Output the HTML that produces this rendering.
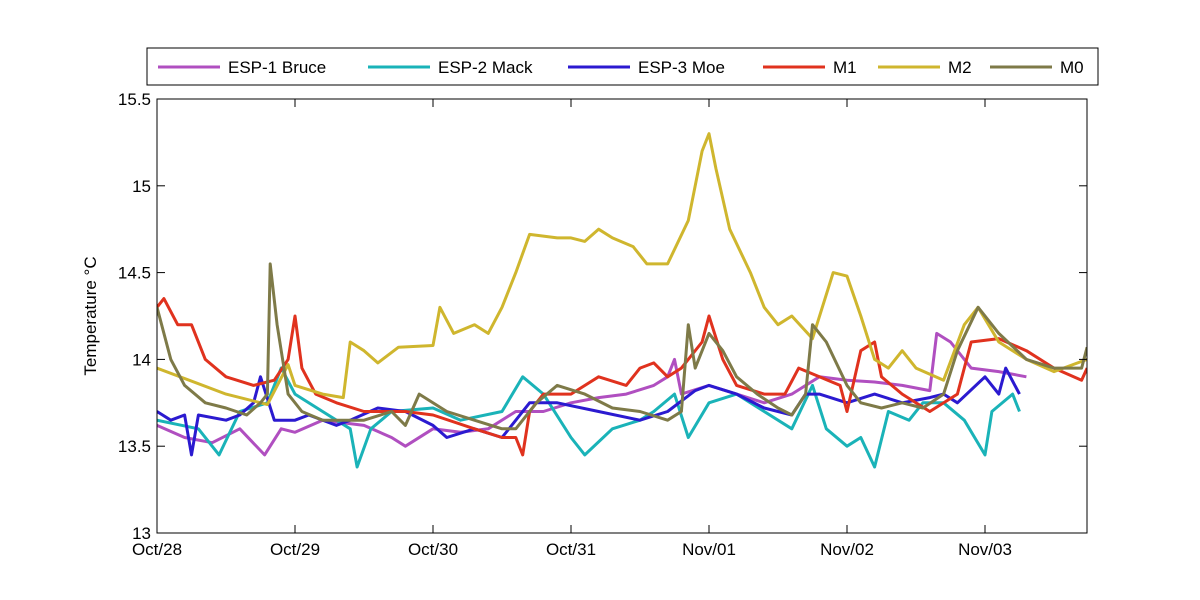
<!DOCTYPE html>
<html><head><meta charset="utf-8"><style>
body{margin:0;background:#fff;}
svg{display:block;font-family:"Liberation Sans",sans-serif;}
</style></head><body>
<svg id="chart" width="1200" height="600">
<rect x="0" y="0" width="1200" height="600" fill="#fff"/>
<g id="plot"></g>
</svg>
<script>
const dayLabels=["Oct/28","Oct/29","Oct/30","Oct/31","Nov/01","Nov/02","Nov/03"];
const yTicks=[13,13.5,14,14.5,15,15.5];
const seriesNames=["ESP-1 Bruce","ESP-2 Mack","ESP-3 Moe","M1","M2","M0"];
const seriesColors=["#b04fc0","#1ab3b8","#2b1ad0","#e0321e","#cfb62e","#7e7a48"];
const bruceX=[0,0.2,0.4,0.6,0.78,0.9,1.0,1.2,1.5,1.7,1.8,2.0,2.2,2.4,2.6,2.8,3.0,3.2,3.4,3.6,3.7,3.75,3.8,4.0,4.2,4.4,4.6,4.8,5.0,5.2,5.4,5.6,5.65,5.75,5.9,6.1,6.3];
const bruceY=[13.62,13.55,13.52,13.6,13.45,13.6,13.58,13.65,13.62,13.55,13.5,13.6,13.58,13.6,13.7,13.7,13.75,13.78,13.8,13.85,13.9,14.0,13.8,13.85,13.8,13.75,13.8,13.9,13.88,13.87,13.85,13.82,14.15,14.1,13.95,13.93,13.9];
const mackX=[0,0.3,0.45,0.6,0.8,0.9,1.0,1.2,1.4,1.45,1.55,1.7,2.0,2.2,2.5,2.65,2.8,3.0,3.1,3.3,3.5,3.6,3.75,3.85,4.0,4.2,4.4,4.6,4.75,4.85,5.0,5.1,5.2,5.3,5.45,5.55,5.7,5.85,6.0,6.05,6.2,6.25];
const mackY=[13.65,13.6,13.45,13.7,13.75,13.95,13.8,13.7,13.6,13.38,13.6,13.7,13.72,13.65,13.7,13.9,13.8,13.55,13.45,13.6,13.65,13.7,13.8,13.55,13.75,13.8,13.7,13.6,13.85,13.6,13.5,13.55,13.38,13.7,13.65,13.75,13.75,13.65,13.45,13.7,13.8,13.7];
const moeX=[0,0.1,0.2,0.25,0.3,0.5,0.6,0.7,0.75,0.85,1.0,1.1,1.3,1.4,1.6,1.8,2.0,2.1,2.3,2.5,2.6,2.7,2.9,3.2,3.5,3.7,3.9,4.0,4.2,4.4,4.6,4.7,4.8,5.0,5.2,5.4,5.6,5.7,5.8,6.0,6.1,6.15,6.25];
const moeY=[13.7,13.65,13.68,13.45,13.68,13.65,13.68,13.75,13.9,13.65,13.65,13.68,13.62,13.65,13.72,13.7,13.62,13.55,13.6,13.55,13.65,13.75,13.75,13.7,13.65,13.7,13.82,13.85,13.8,13.72,13.68,13.8,13.8,13.75,13.8,13.75,13.78,13.8,13.75,13.9,13.8,13.95,13.8];
const m1X=[0,0.05,0.15,0.25,0.35,0.5,0.7,0.85,0.95,1.0,1.05,1.15,1.3,1.5,1.8,2.0,2.3,2.5,2.6,2.65,2.7,2.8,3.0,3.2,3.4,3.5,3.6,3.7,3.8,3.95,4.0,4.1,4.2,4.4,4.55,4.65,4.8,4.95,5.0,5.1,5.2,5.25,5.4,5.6,5.8,5.9,6.1,6.3,6.5,6.7,6.74];
const m1Y=[14.3,14.35,14.2,14.2,14.0,13.9,13.85,13.88,14.0,14.25,13.95,13.8,13.75,13.7,13.7,13.68,13.6,13.55,13.55,13.45,13.7,13.8,13.8,13.9,13.85,13.95,13.98,13.9,13.95,14.1,14.25,14.0,13.85,13.8,13.8,13.95,13.9,13.85,13.7,14.05,14.1,13.9,13.8,13.7,13.8,14.1,14.12,14.05,13.95,13.88,13.95];
const m2X=[0,0.5,0.8,0.95,1.0,1.2,1.35,1.4,1.5,1.6,1.75,2.0,2.05,2.15,2.3,2.4,2.5,2.6,2.7,2.9,3.0,3.1,3.2,3.3,3.45,3.55,3.7,3.85,3.95,4.0,4.05,4.15,4.3,4.4,4.5,4.6,4.75,4.9,5.0,5.1,5.2,5.3,5.4,5.5,5.7,5.85,5.95,6.1,6.3,6.5,6.74];
const m2Y=[13.95,13.8,13.74,13.97,13.85,13.8,13.78,14.1,14.05,13.98,14.07,14.08,14.3,14.15,14.2,14.15,14.3,14.5,14.72,14.7,14.7,14.68,14.75,14.7,14.65,14.55,14.55,14.8,15.2,15.3,15.1,14.75,14.5,14.3,14.2,14.25,14.12,14.5,14.48,14.25,14.0,13.95,14.05,13.95,13.88,14.2,14.3,14.1,14.0,13.93,14.0];
const m0X=[0,0.1,0.2,0.35,0.5,0.65,0.75,0.8,0.82,0.87,0.95,1.05,1.2,1.5,1.7,1.8,1.9,2.1,2.3,2.5,2.6,2.75,2.9,3.1,3.3,3.5,3.7,3.8,3.85,3.9,4.0,4.1,4.2,4.35,4.5,4.6,4.7,4.75,4.85,5.0,5.1,5.25,5.4,5.55,5.7,5.8,5.95,6.1,6.3,6.5,6.7,6.74];
const m0Y=[14.3,14.0,13.85,13.75,13.72,13.68,13.75,13.8,14.55,14.2,13.8,13.7,13.65,13.65,13.7,13.62,13.8,13.7,13.65,13.6,13.6,13.75,13.85,13.8,13.72,13.7,13.65,13.7,14.2,13.95,14.15,14.05,13.9,13.8,13.72,13.68,13.8,14.2,14.1,13.85,13.75,13.72,13.75,13.72,13.8,14.05,14.3,14.15,14.0,13.95,13.95,14.07];
const allX=[bruceX,mackX,moeX,m1X,m2X,m0X];
const allY=[bruceY,mackY,moeY,m1Y,m2Y,m0Y];

const L=157,R=1087,T=99,B=533,xMax=(R-L)/138,yMin=13,yMax=15.5;
const xs=d=>L+d/xMax*(R-L);
const ys=v=>B-(v-yMin)/(yMax-yMin)*(B-T);
const NS="http://www.w3.org/2000/svg";
const svg=document.getElementById('chart');
function mk(tag,attrs,parent){const e=document.createElementNS(NS,tag);for(const k in attrs)e.setAttribute(k,attrs[k]);(parent||svg).appendChild(e);return e;}

const clip=mk('clipPath',{id:'cp'});mk('rect',{x:L,y:T,width:R-L,height:B-T},clip);
const plot=document.getElementById('plot');
allX.forEach((xa,i)=>{
  const p=mk('polyline',{points:xa.map((x,j)=>xs(x).toFixed(1)+','+ys(allY[i][j]).toFixed(1)).join(' '),fill:'none',stroke:seriesColors[i],'stroke-width':3,'stroke-linejoin':'round','clip-path':'url(#cp)'},plot);
  
  
});
const frame=mk('rect',{x:L,y:T,width:R-L,height:B-T,fill:'none',stroke:'#000','stroke-width':1});


yTicks.forEach(v=>{
  const y=ys(v);
  mk('line',{x1:L,x2:L+8,y1:y,y2:y,stroke:'#000'});
  mk('line',{x1:R,x2:R-8,y1:y,y2:y,stroke:'#000'});
  const t=mk('text',{x:L-6,y:y+6,'text-anchor':'end','font-size':17});
  t.textContent=String(v);
  
  
});
dayLabels.forEach((s,i)=>{
  const x=xs(i);
  mk('line',{x1:x,x2:x,y1:B,y2:B-8,stroke:'#000'});
  mk('line',{x1:x,x2:x,y1:T,y2:T+8,stroke:'#000'});
  const t=mk('text',{x:x,y:B+22,'text-anchor':'middle','font-size':17});
  t.textContent=s;
  
  
});
const yt=mk('text',{x:0,y:0,transform:'translate(96,316) rotate(-90)','text-anchor':'middle','font-size':17});
yt.textContent='Temperature °C';



const leg=mk('g',{});


mk('rect',{x:147,y:48,width:951,height:37,fill:'#fff',stroke:'#000'},leg);
const legX=[158,368,568,763,878,990];
seriesNames.forEach((n,i)=>{
  const g=mk('g',{},leg);
  
  
  mk('line',{x1:legX[i],x2:legX[i]+62,y1:67,y2:67,stroke:seriesColors[i],'stroke-width':3},g);
  const t=mk('text',{x:legX[i]+70,y:73,'font-size':17},g);
  t.textContent=n;
});
</script>
</body></html>
